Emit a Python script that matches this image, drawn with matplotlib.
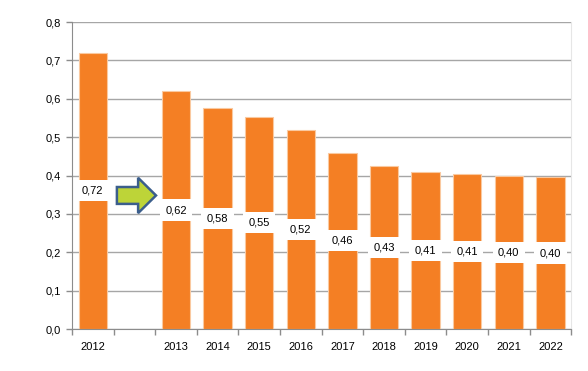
import numpy as np
import matplotlib.pyplot as plt
from matplotlib.patches import FancyArrow

# values (the second slot is left empty on purpose)
years = ["2012", "", "2013", "2014", "2015", "2016", "2017", "2018", "2019", "2020", "2021", "2022"]
values = [0.72, np.nan, 0.62, 0.577, 0.553, 0.519, 0.459, 0.426, 0.410, 0.405, 0.399, 0.396]

plt.rcParams['font.family'] = ['Liberation Sans', 'DejaVu Sans']

fig = plt.figure(figsize=(5.88, 3.71), dpi=100)
ax = fig.add_axes([0.1224, 0.1132, 0.849, 0.8275])

x = np.arange(len(years))
ax.bar(x, values, width=0.68, color='#F47F24', edgecolor='#FAC9A0', linewidth=0.8, zorder=2)

# value labels in white boxes at mid-height of each bar
for xi, v in zip(x, values):
    if np.isnan(v):
        continue
    ax.text(xi, v / 2, f"{v:.2f}".replace('.', ','), ha='center', va='center', fontsize=8,
            zorder=4, bbox=dict(boxstyle='square,pad=0.5', facecolor='white', edgecolor='none'))

# arrow between 2012 and 2013
arrow = FancyArrow(0.58, 0.348, 0.94, 0.0, width=0.044, head_width=0.092, head_length=0.43,
                   length_includes_head=True, facecolor='#BDD438', edgecolor='#3B5E8C',
                   linewidth=1.8, zorder=5)
ax.add_patch(arrow)

ax.set_xlim(-0.5, len(years) - 0.5)
ax.set_ylim(0, 0.8)
ax.set_yticks(np.arange(0, 0.81, 0.1))
ax.set_yticklabels([f"{t:.1f}".replace('.', ',') for t in np.arange(0, 0.81, 0.1)])
ax.set_xticks(x)
ax.set_xticklabels(years)
ax.set_xticks(np.arange(-0.5, len(years), 1.0), minor=True)
ax.tick_params(axis='x', which='major', length=0, pad=9, labelsize=8)
ax.tick_params(axis='x', which='minor', length=4, color='#8c8c8c', width=1)
ax.tick_params(axis='y', length=4, color='#8c8c8c', width=1, labelsize=8, pad=4)

ax.yaxis.grid(True, color='#a6a6a6', linewidth=1, zorder=0)
ax.set_axisbelow(True)
ax.spines['top'].set_visible(False)
ax.spines['right'].set_color('#e6e6e6')
ax.spines['left'].set_color('#8c8c8c')
ax.spines['bottom'].set_color('#8c8c8c')

fig.savefig('out.png', dpi=100)
